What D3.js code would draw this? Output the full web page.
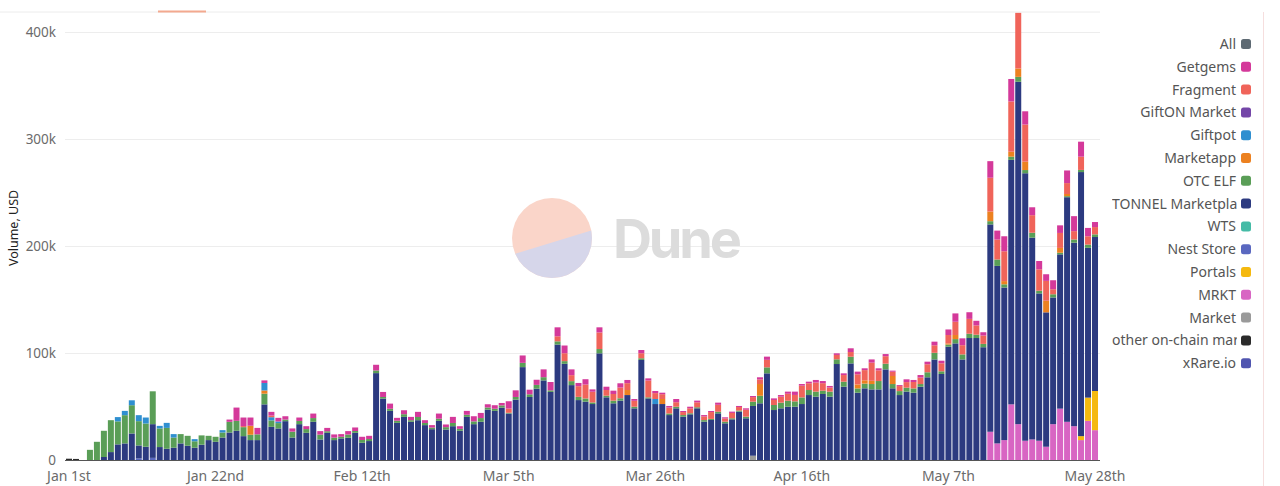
<!DOCTYPE html>
<html><head><meta charset="utf-8">
<script src="https://cdn.jsdelivr.net/npm/d3@7"></script>
<style>html,body{margin:0;padding:0;background:#fff;overflow:hidden}</style>
</head><body><svg id="c" width="1280" height="486"></svg>
<script>
// ---------- DATA (daily volume, thousands of USD) ----------
const startDate = "2025-01-01";
const endDate = "2025-05-28";
const xTickLabels = ["Jan 1st","Jan 22nd","Feb 12th","Mar 5th","Mar 26th","Apr 16th","May 7th","May 28th"];
const xTickDates  = ["2025-01-01","2025-01-22","2025-02-12","2025-03-05","2025-03-26","2025-04-16","2025-05-07","2025-05-28"];
const yTicks = [0, 100, 200, 300, 400];
const yTickLabels = ["0", "100k", "200k", "300k", "400k"];

// full daily arrays (Jan / Feb / Mar / Apr / May lines)
const tonnel = [
  0,0,0,0,0,2.8,7.4,14.6,15.5,24.8,12.1,12.4,31.5,12.1,10.5,11.5,15.5,13.3,11.5,14.3,18.6,17,21,25.7,27.3,22.3,18.6,18.6,52,31,29.5,
  36.3,21,33.5,25.4,35.7,19.2,25.4,18.6,20.2,20.8,25.4,16.1,17.7,81.2,57.4,45.9,34.7,40.3,35.7,37.2,32.6,28.8,36.6,28.5,31.6,27.3,40.3,33.5,
  35.7,47.1,45.9,49,43.4,56.4,86.8,58.9,66.7,74.4,63.6,107.9,89.9,70,56,54.5,52.3,99.7,58.6,53,55.5,60.7,48.3,93.5,57.6,52.3,52.3,42,48.3,40.5,42.7,
  48.3,35.8,37.4,43.6,34.3,38,45.2,39,46.5,53,81,46.7,48.3,49.8,49.8,52.3,60.7,59.2,61.7,59.2,89.7,68.5,90.3,62.9,67,66,66,84.7,67,60.7,
  63.9,62.9,68.5,77.3,94,80.4,105.9,109,94,114,114,105.4,193.8,165.9,142.6,228.5,320,250,188.6,137.7,125.6,118.4,144.2,209.9,171.5,246.8,140,143.9
];
const otcElf = [
  0,0,0,9.5,17,24.5,29.8,21.5,26.4,26.4,22.7,21.7,30.7,17.4,19.5,9.5,8.7,9.3,6,8.7,4,4.7,4.7,10,9.3,8.4,5,5.4,10,6,5,
  1.5,5.5,3,3.5,3.5,4.5,1.5,2.3,1.5,3,1.7,2.6,1.9,2.5,1.5,2,2,2.5,1.5,3,2,1.5,2,2.2,3,1.8,2,2.6,
  3.5,2,2,2,0.7,2.5,4,2.5,3.5,3,1.5,3,2.5,3.7,3,3,1.5,4,1.5,2.5,2.2,0,1.5,1.6,1,0,0,1.5,1.5,1.5,1,
  1,1.5,1,1.5,1.5,1,1,1.5,4,7,5.6,4.7,5.3,5.6,5,6.2,4.7,4.7,3.1,4.7,4.4,4.7,6.2,4,4.4,5,7.8,5.3,4,3.7,
  3.7,4,2.5,4.7,6.2,2.5,2,4,4.7,4,3.1,3.1,3,6,3,3,4.6,3,4.6,2.5,0,3,1.5,1,3,2,3,2.5
];
const fragment = [
  0,0,0,0,0,0,0,0,0,0,0,0,0,0,0,0,0,0,0,0,0,0,0,0,0,1,0,0,0,1.5,0,
  0,0,0,0,0,0,0,0,0,0,0,0,0,0,0,0,0,0,0,0,0,0,0,0,0,0,0,0,
  0,0,0,0,4,0,0,0,0,0,0,4.7,7.4,5.6,10,13,10,15.5,5.3,6.2,10,6.4,5.5,4.7,15.7,5.5,4.5,5.5,4.2,2.8,4.6,
  4.6,3.5,6.4,6.5,3,5,3.3,6.5,4.3,4.3,7,4.7,5.6,6.5,6,11,6.3,8.5,7,3.8,4.1,6.2,4.4,9.5,9.5,17,10,7,4,4.7,
  5.2,6,6,7.5,7,7.5,7.8,12.4,8.6,13.9,8.7,7.8,31.6,18.6,27.9,47,52,34.7,16.4,20,18.6,4.7,14,10.2,7.8,12.4,7.8,6.8
];
const getgems = [
  0,0,0,0,0,0,0,0,0,0,0,0,0,0,0,0,0,0,0,0,0,0,0,2.1,12.4,8,7.7,6,2.4,3.5,3.4,
  3.1,3,3.2,2.7,4.2,3.3,3.1,3,2.5,3.2,3.3,3,3,5.3,4.7,4.8,2.7,3.7,3.1,4.8,2.6,2.3,4.8,2.5,5.7,2.5,3.6,4.8,
  4.8,3,3.3,2.3,6.8,6.2,6.9,4.3,4.8,7.3,7.8,8.4,7.2,5.4,3,5,2.2,4.8,3.1,3.1,4,3,1.7,3,2,2,1.4,1.5,3,1,1.5,
  1.6,1.2,1,2,1.1,1.2,1,1.3,1,2,3,1.5,1.5,2,3.1,1.5,1.5,2.4,2,1.5,1.5,1.6,3.5,2.5,1.7,3,1.9,2,1,0.9,
  2.6,1.9,2.4,2.4,3.4,2.4,5.2,7.8,6.4,6.2,4.3,3.1,15.5,8.4,14,21,0,12.4,7.4,7.8,6.2,8.4,7.1,11.8,14,14,7.8,4.7
];
// sparse series (date -> value)
const marketapp = {"2025-01-27":8.4,"2025-01-29":3,"2025-03-22":4.7,"2025-03-27":4.7,"2025-04-10":11,"2025-04-24":3.7,"2025-04-25":3.1,"2025-04-26":3,"2025-04-29":7.5,"2025-05-07":1.1,"2025-05-08":3.8,"2025-05-13":9,"2025-05-15":3,"2025-05-16":4.6,"2025-05-17":7.8,"2025-05-18":7.8,"2025-05-21":10.8,"2025-05-23":4.5,"2025-05-24":2};
const giftpot = {"2025-01-08":4,"2025-01-09":4,"2025-01-10":4.6,"2025-01-11":5.6,"2025-01-12":5.6,"2025-01-14":2.4,"2025-01-15":4.7,"2025-01-16":3.2,"2025-01-19":2,"2025-01-23":2.2,"2025-01-29":7,"2025-01-30":3,"2025-01-31":1.5,"2025-03-26":4.7};
const mrkt = {"2025-05-13":26.4,"2025-05-14":15.5,"2025-05-15":18.6,"2025-05-16":52,"2025-05-17":33.5,"2025-05-18":18,"2025-05-19":19.2,"2025-05-20":18,"2025-05-21":12.4,"2025-05-22":33.5,"2025-05-23":48,"2025-05-24":35.7,"2025-05-25":31.6,"2025-05-26":18.6,"2025-05-27":36.6,"2025-05-28":27.9};
const portals = {"2025-05-26":3.7,"2025-05-27":21.7,"2025-05-28":36.6};
const market = {"2025-04-09":4};
const otherOnChain = {"2025-01-01":1.2,"2025-01-02":1.0};
const nestStore = {"2025-01-11":1.5,"2025-01-13":2};
const giftOn = {};
const wts = {};
const xRare = {};
const all = {};

// legend order (top -> bottom); stacks are drawn bottom -> top in reverse order
const legendNames  = ["All","Getgems","Fragment","GiftON Market","Giftpot","Marketapp","OTC ELF","TONNEL Marketplace","WTS","Nest Store","Portals","MRKT","Market","other on-chain markets","xRare.io"];
const legendColors = ["#5e6a73","#d4399a","#f0645a","#7446a8","#2f8fd0","#ec8120","#5a9e57","#2c3a80","#45bba6","#5a68c0","#f5b90f","#d865c3","#9a9a9a","#2b2b2b","#5055b0"];
const legendData   = [all,getgems,fragment,giftOn,giftpot,marketapp,otcElf,tonnel,wts,nestStore,portals,mrkt,market,otherOnChain,xRare];

// ---------- CHART ----------
const svg = d3.select("#c");
const parse = d3.timeParse("%Y-%m-%d"), fmt = d3.timeFormat("%Y-%m-%d");
const days = d3.timeDay.range(parse(startDate), d3.timeDay.offset(parse(endDate), 1)).map(fmt);

const stackKeys = legendNames.slice(1).reverse();
const rows = days.map((d, i) => {
  const r = {date: d};
  legendNames.forEach((n, k) => {
    if (k === 0) return;
    const src = legendData[k];
    r[n] = Array.isArray(src) ? (src[i] || 0) : (src[d] || 0);
  });
  return r;
});
const stacked = d3.stack().keys(stackKeys)(rows);
const colorOf = n => legendColors[legendNames.indexOf(n)];

const x = d3.scaleBand().domain(days).range([65.5, 1098.5]).paddingInner(0.14).paddingOuter(0.07);
const y = d3.scaleLinear().domain([0, 418.7]).range([460, 12]);

const font = "'Noto Sans', 'Open Sans', sans-serif";

// UI top line + tab marker
svg.append("line").attr("x1",0).attr("x2",1100).attr("y1",12).attr("y2",12).attr("stroke","#ececec");
svg.append("rect").attr("x",158).attr("y",10.5).attr("width",48).attr("height",2).attr("fill","#f3a98f");
svg.append("line").attr("x1",1263.5).attr("x2",1263.5).attr("y1",12).attr("y2",486).attr("stroke","#f6dede");

// gridlines
svg.append("g").selectAll("line").data(yTicks.slice(1)).join("line")
  .attr("x1",65).attr("x2",1100).attr("y1",d=>Math.round(y(d))+0.5).attr("y2",d=>Math.round(y(d))+0.5)
  .attr("stroke","#ededed");

// watermark
const wm = svg.append("g");
wm.append("clipPath").attr("id","wmc").append("circle").attr("cx",552).attr("cy",238).attr("r",40);
const wg = wm.append("g").attr("clip-path","url(#wmc)");
wg.append("rect").attr("x",510).attr("y",196).attr("width",84).attr("height",84).attr("fill","#fad5c9");
wg.append("polygon").attr("points","508,256 596,229 596,282 508,282").attr("fill","#d6d6ea");
wm.append("text").attr("x",613).attr("y",258).attr("font-family","Inter, 'Noto Sans', sans-serif")
  .attr("font-weight",700).attr("font-size",54).attr("fill","#dcdcdc").attr("textLength",129).text("Dune");

// bars
svg.append("g").selectAll("g").data(stacked).join("g")
  .attr("fill", s => colorOf(s.key))
  .selectAll("rect").data(s => s.filter(p => p[1] - p[0] > 0)).join("rect")
  .attr("x", p => x(p.data.date)).attr("width", x.bandwidth())
  .attr("y", p => y(p[1])).attr("height", p => y(p[0]) - y(p[1]));

// baseline
svg.append("line").attr("x1",65).attr("x2",1100).attr("y1",460.5).attr("y2",460.5).attr("stroke","#555").attr("stroke-width",1);

// y axis labels
svg.append("g").selectAll("text").data(yTicks).join("text")
  .attr("x",56).attr("y",d=>y(d)+4.5).attr("text-anchor","end")
  .attr("font-family",font).attr("font-size",13.5).attr("fill","#6b6b6b")
  .text((d,i)=>yTickLabels[i]);
svg.append("text").attr("transform","translate(18,228) rotate(-90)").attr("text-anchor","middle")
  .attr("font-family",font).attr("font-size",12.5).attr("fill","#222").text("Volume, USD");

// x axis labels
svg.append("g").selectAll("text").data(xTickDates).join("text")
  .attr("x",d=>x(d)+x.bandwidth()/2).attr("y",481).attr("text-anchor","middle")
  .attr("font-family",font).attr("font-size",14).attr("fill","#6b6b6b")
  .text((d,i)=>xTickLabels[i]);

// legend (labels wider than the box start at its left edge and are cut at its right edge)
const boxL = 1112, boxR = 1237;
svg.append("clipPath").attr("id","lc").append("rect").attr("x",boxL).attr("y",0).attr("width",boxR-boxL).attr("height",486);
const lg = svg.append("g");
legendNames.forEach((n,i)=>{
  const cy = 44 + i*22.8;
  const t = lg.append("text").attr("clip-path","url(#lc)").attr("y",cy+5)
    .attr("font-family",font).attr("font-size",14).attr("fill","#555").text(n);
  const w = t.node().getComputedTextLength();
  if (w > boxR - 1 - boxL) t.attr("x",boxL).attr("text-anchor","start");
  else t.attr("x",1236).attr("text-anchor","end");
  lg.append("rect").attr("x",1241).attr("y",cy-5).attr("width",10).attr("height",10).attr("rx",2.5).attr("fill",legendColors[i]);
});
</script></body></html>
